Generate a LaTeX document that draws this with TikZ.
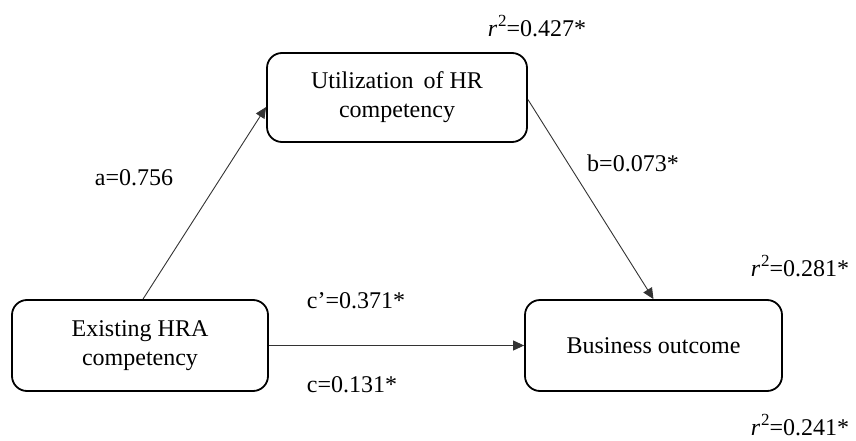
\documentclass[tikz,border=0pt]{standalone}
\usepackage{fontspec}
\setmainfont{Liberation Serif}
\usetikzlibrary{arrows.meta}
\newcommand{\rsq}{\textit{r}\kern1pt\raisebox{0.42em}{\fontsize{17}{17}\selectfont 2}}
\tikzset{
  box/.style={draw=black, line width=1.8pt, rounded corners=15pt, inner sep=0pt, align=center,
    font=\fontsize{24}{29}\selectfont},
  lbl/.style={font=\fontsize{24}{29}\selectfont, inner sep=0pt},
  conn/.style={draw=black!80, line width=0.9pt, -{Triangle[length=11pt,width=10pt]}}
}
\begin{document}
\begin{tikzpicture}[x=1pt,y=-1pt]
\useasboundingbox (0,0) rectangle (856,441);
\node[box, minimum width=260pt, minimum height=89pt] (ut) at (397,97.5) {Utilization\, of HR\\competency};
\node[box, minimum width=256pt, minimum height=91pt] (ex) at (140,345.5) {Existing HRA\\competency};
\node[box, minimum width=257pt, minimum height=91pt] (bo) at (653.5,345.5) {Business outcome};
\coordinate (uta) at ([yshift=-9.5pt]ut.west);
\draw[conn] ([xshift=3pt]ex.north) -- (uta);
\draw[conn] ([yshift=-2pt]ut.east) -- (bo.north);
\draw[conn] (ex.east) -- (bo.west);
\node[lbl] (la) at (134,178) {a=0.756};
\node[lbl] (lb) at (633,163) {b=0.073*};
\node[lbl] (lcp) at (356,301) {c’=0.371*};
\node[lbl] (lc) at (352,385) {c=0.131*};
\node[lbl] (r1) at (537,26) {\rsq=0.427*};
\node[lbl] (r2) at (800,266) {\rsq=0.281*};
\node[lbl] (r3) at (800,425) {\rsq=0.241*};
\end{tikzpicture}
\end{document}
